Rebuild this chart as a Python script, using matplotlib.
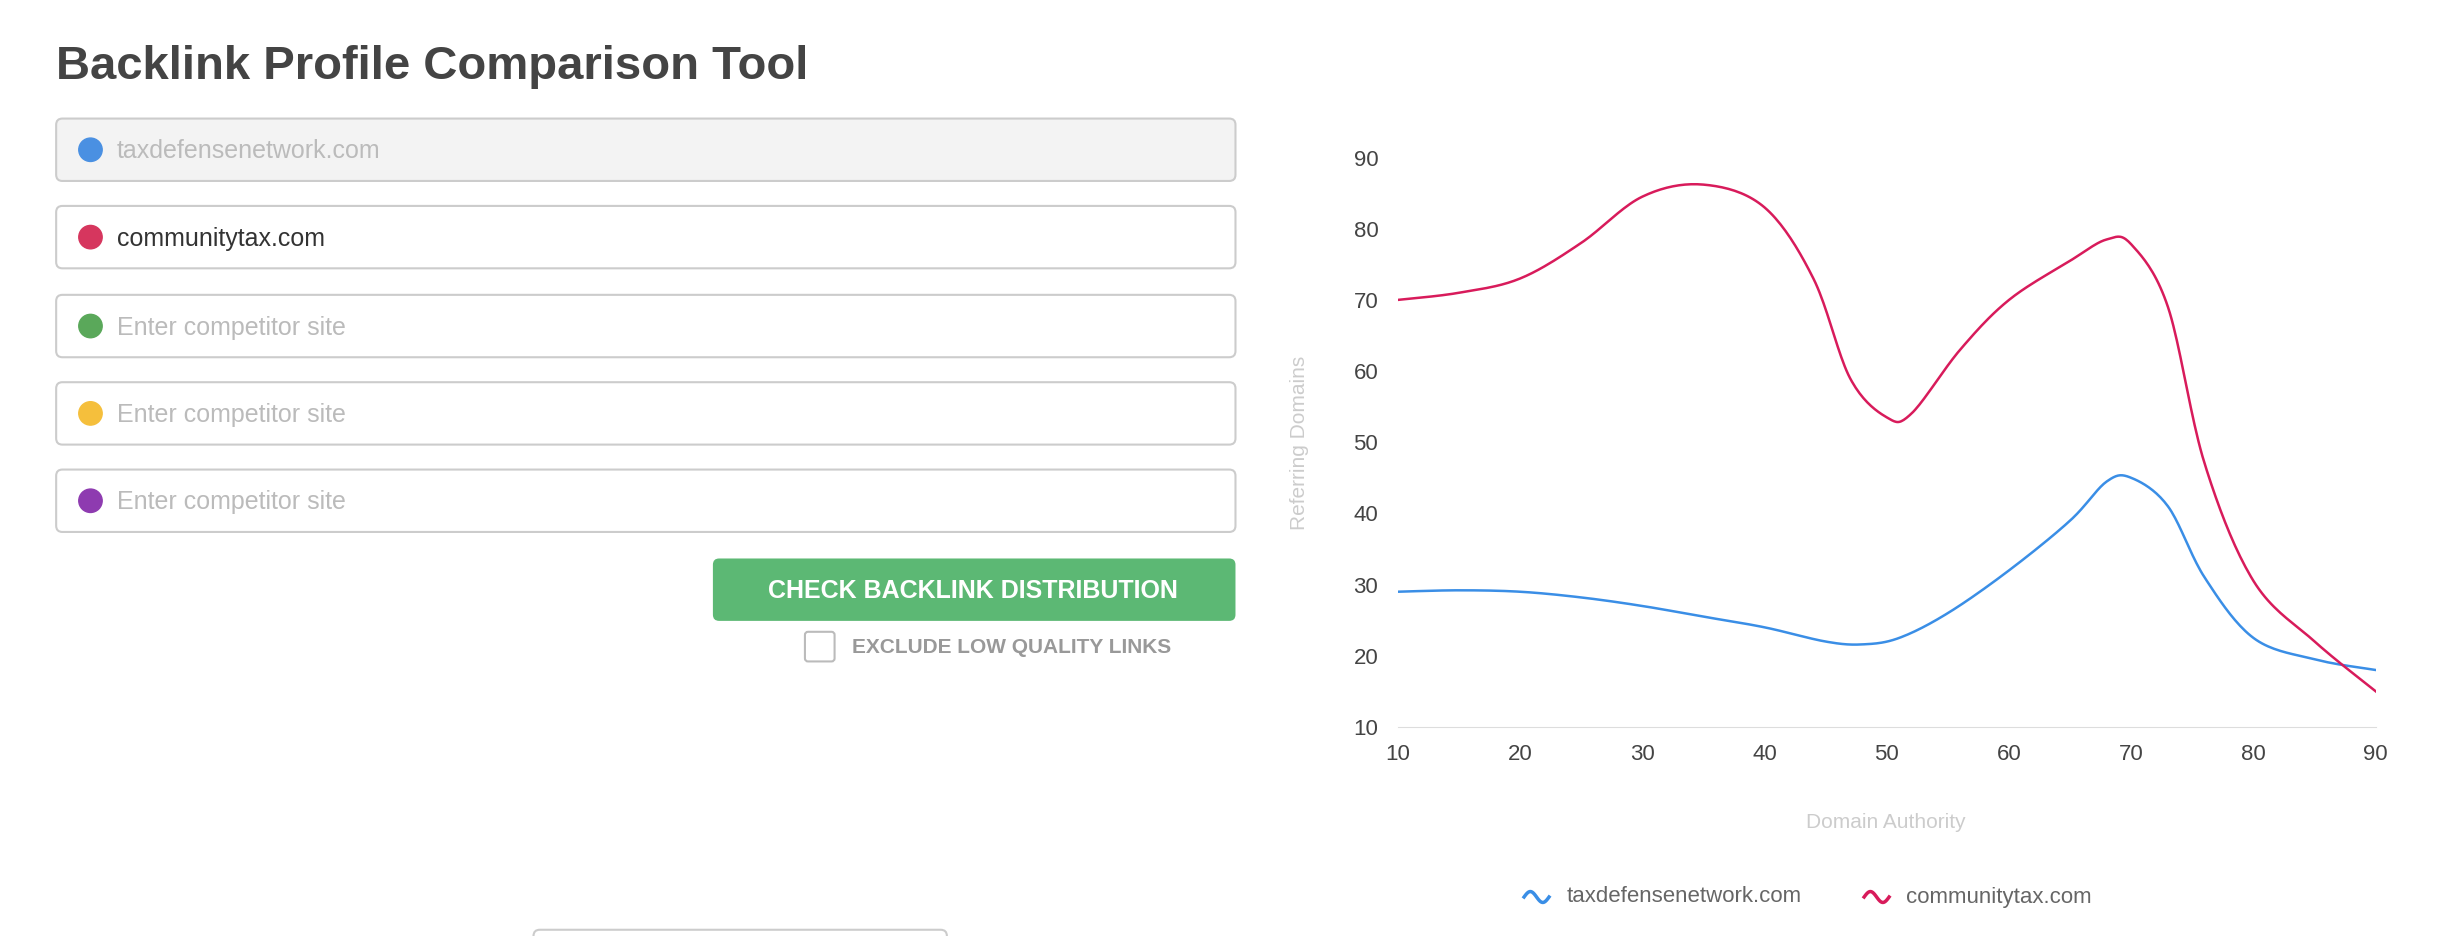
import numpy as np
import matplotlib
matplotlib.use("Agg")
import matplotlib.pyplot as plt
from matplotlib.patches import FancyBboxPatch, Circle, Rectangle

title = "Backlink Profile Comparison Tool"
sites = ["taxdefensenetwork.com", "communitytax.com", "Enter competitor site", "Enter competitor site", "Enter competitor site"]
site_colors = ["#4a90e2", "#d6365e", "#5aa85a", "#f5bf3c", "#8e3bb0"]
blue_x = [10, 15, 20, 25, 30, 35, 40, 45, 48, 51, 55, 60, 65, 68, 70, 73, 76, 80, 85, 90]
blue_y = [29, 29.2, 29, 28.2, 27, 25.5, 24, 22, 21.6, 22.5, 26, 32, 39, 44.5, 45, 41, 31, 22.5, 19.5, 18]
red_x = [10, 15, 20, 25, 30, 35, 40, 44, 47, 50, 52, 56, 60, 65, 68, 70, 73, 76, 80, 85, 90]
red_y = [70, 71, 73, 78, 84.5, 86.2, 83, 73, 59, 53.5, 54, 63, 70, 75.5, 78.5, 77.8, 69, 47, 30.5, 22, 15]
xticks = [10, 20, 30, 40, 50, 60, 70, 80, 90]
yticks = [10, 20, 30, 40, 50, 60, 70, 80, 90]

def smooth(x, y, n=20):
    x = np.asarray(x, float); y = np.asarray(y, float)
    P = np.column_stack([x, y])
    P = np.vstack([P[0], P, P[-1]])
    out = []
    for i in range(1, len(P) - 2):
        p0, p1, p2, p3 = P[i-1], P[i], P[i+1], P[i+2]
        t = np.linspace(0, 1, n, endpoint=False)[:, None]
        pts = 0.5 * ((2*p1) + (-p0+p2)*t + (2*p0-5*p1+4*p2-p3)*t**2 + (-p0+3*p1-3*p2+p3)*t**3)
        out.append(pts)
    out.append(P[-2][None])
    a = np.vstack(out)
    return a[:, 0], a[:, 1]

W, H = 1568, 600
fig = plt.figure(figsize=(24.46, 9.36), dpi=100)
bg = fig.add_axes([0, 0, 1, 1])
bg.set_xlim(0, W); bg.set_ylim(H, 0); bg.axis("off")
s = 2446 / W

bg.text(36, 43, title, fontsize=34, fontweight="bold", color="#444444", va="center", family="Liberation Sans")
ys = [96, 152, 209, 265, 321]
for i, (t, c, y) in enumerate(zip(sites, site_colors, ys)):
    fc = "#f3f3f3" if i == 0 else "white"
    bg.add_patch(FancyBboxPatch((36, y - 20), 756, 40, boxstyle="round,pad=0,rounding_size=4",
                                fc=fc, ec="#cccccc", lw=1.5))
    bg.add_patch(Circle((58, y), 7.5, color=c))
    tc = "#333333" if i == 1 else "#bbbbbb"
    bg.text(75, y + 1, t, fontsize=18, color=tc, va="center", family="Liberation Sans")

bg.add_patch(FancyBboxPatch((457, 358), 335, 40, boxstyle="round,pad=0,rounding_size=4", fc="#5cb874", ec="none"))
bg.text(624, 379, "CHECK BACKLINK DISTRIBUTION", fontsize=18, fontweight="bold", color="white",
        ha="center", va="center", family="Liberation Sans")
bg.add_patch(FancyBboxPatch((516, 405), 19, 19, boxstyle="round,pad=0,rounding_size=2", fc="white", ec="#bbbbbb", lw=1.5))
bg.text(546, 415, "EXCLUDE LOW QUALITY LINKS", fontsize=15, fontweight="bold", color="#999999",
        va="center", family="Liberation Sans")
bg.add_patch(FancyBboxPatch((342, 596), 265, 20, boxstyle="round,pad=0,rounding_size=4", fc="white", ec="#cccccc", lw=1.5))

ax = fig.add_axes([896/W, 1-466/H, (1523-896)/W, (466-101)/H])
bx, by = smooth(blue_x, blue_y)
rx, ry = smooth(red_x, red_y)
ax.plot(bx, by, color="#3a8ee6", lw=1.8)
ax.plot(rx, ry, color="#d81b5b", lw=1.8)
ax.set_xlim(10, 90); ax.set_ylim(10, 90)
ax.set_xticks(xticks); ax.set_yticks(yticks)
for sp in ["top", "right", "left"]:
    ax.spines[sp].set_visible(False)
ax.spines["bottom"].set_color("#dddddd")
ax.tick_params(length=0, labelsize=16, colors="#444444", pad=12)
ax.tick_params(axis="y", pad=14)
for lab in ax.get_xticklabels() + ax.get_yticklabels():
    lab.set_family("Liberation Sans")
ax.set_facecolor("none")

bg.text(833, 284, "Referring Domains", rotation=90, fontsize=15, color="#cccccc", ha="center", va="center", family="Liberation Sans")
bg.text(1209, 527, "Domain Authority", fontsize=15, color="#cccccc", ha="center", va="center", family="Liberation Sans")

t = np.linspace(0, 1, 30)
for x0, c, lbl in [(977, "#3a8ee6", "taxdefensenetwork.com"), (1195, "#d81b5b", "communitytax.com")]:
    bg.plot(x0 + t * 16, 575 - 3.5 * np.sin(t * 2 * np.pi), color=c, lw=2.5)
    bg.text(x0 + 27, 575, lbl, fontsize=16, color="#666666", va="center", family="Liberation Sans")

fig.savefig("out.png", dpi=100)
